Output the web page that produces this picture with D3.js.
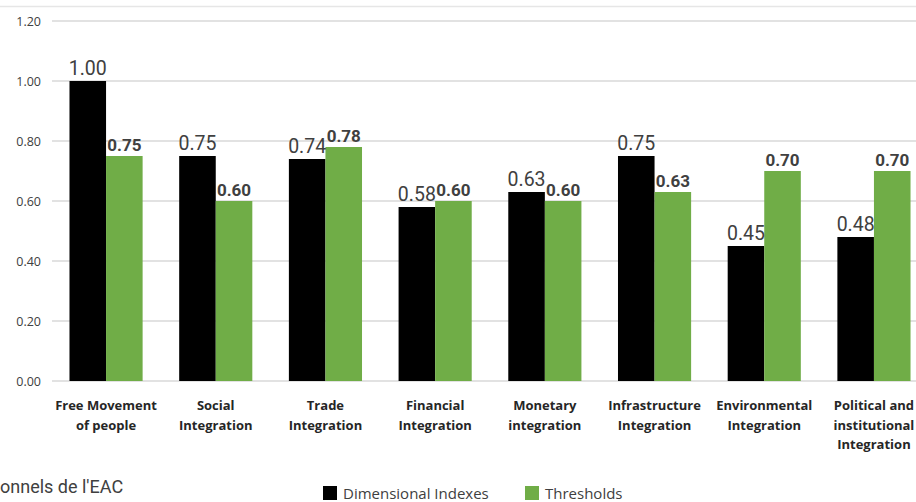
<!DOCTYPE html>
<html>
<head>
<meta charset="utf-8">
<script src="https://cdn.jsdelivr.net/npm/d3@7"></script>
<style>
  body { margin: 0; background: #fff; }
  svg { display: block; }
</style>
</head>
<body>
<svg width="916" height="502"></svg>
<script>
// Data
var categories = [
    ["Free Movement", "of people"],
    ["Social", "Integration"],
    ["Trade", "Integration"],
    ["Financial", "Integration"],
    ["Monetary", "integration"],
    ["Infrastructure", "Integration"],
    ["Environmental", "Integration"],
    ["Political and", "institutional", "Integration"]
];
var dimensional = [1.00, 0.75, 0.74, 0.58, 0.63, 0.75, 0.45, 0.48];
var thresholds = [0.75, 0.60, 0.78, 0.60, 0.60, 0.63, 0.70, 0.70];
var seriesNames = ["Dimensional Indexes", "Thresholds"];
var yTicks = [0, 0.2, 0.4, 0.6, 0.8, 1.0, 1.2];

var colors = { "Dimensional Indexes": "#000000", "Thresholds": "#70ad47" };

var svg = d3.select("svg"),
    width = +svg.attr("width"),
    height = +svg.attr("height");

// scales
var x0 = d3.scaleBand()
    .domain(d3.range(categories.length))
    .range([51.2, 928.8]);

var x1 = d3.scaleBand()
    .domain(seriesNames)
    .range([x0.bandwidth() / 6, x0.bandwidth() * 5 / 6]);

var y = d3.scaleLinear()
    .domain([0, 1.2])
    .range([381, 21]);

// top frame line
svg.append("line")
    .attr("x1", 0).attr("x2", width)
    .attr("y1", 6.5).attr("y2", 6.5)
    .attr("stroke", "#e6e6e6")
    .attr("stroke-width", 1.5);

// gridlines
svg.append("g")
    .selectAll("line")
    .data(yTicks)
    .enter()
    .append("line")
    .attr("x1", 52).attr("x2", width)
    .attr("y1", function (d) { return y(d); })
    .attr("y2", function (d) { return y(d); })
    .attr("stroke", "#d9d9d9")
    .attr("stroke-width", 1.5);

// y axis labels
var yAxis = d3.axisLeft(y)
    .tickValues(yTicks)
    .tickFormat(d3.format(".2f"))
    .tickSize(0)
    .tickPadding(0);

var yg = svg.append("g")
    .attr("transform", "translate(41,0)")
    .call(yAxis);
yg.select(".domain").remove();
yg.selectAll("text")
    .attr("font-family", "Open Sans")
    .attr("font-size", "12.5px")
    .attr("fill", "#404040");

// rows of data per category
var rows = categories.map(function (c, i) {
    return [
        { i: i, key: "Dimensional Indexes", value: dimensional[i] },
        { i: i, key: "Thresholds", value: thresholds[i] }
    ];
});

var groups = svg.append("g")
    .selectAll("g")
    .data(rows)
    .enter()
    .append("g")
    .attr("transform", function (d, i) { return "translate(" + x0(i) + ",0)"; });

groups.selectAll("rect")
    .data(function (d) { return d; })
    .enter()
    .append("rect")
    .attr("x", function (d) { return x1(d.key); })
    .attr("width", x1.bandwidth())
    .attr("y", function (d) { return y(d.value); })
    .attr("height", function (d) { return y(0) - y(d.value); })
    .attr("fill", function (d) { return colors[d.key]; });

// value labels
groups.selectAll("text")
    .data(function (d) { return d; })
    .enter()
    .append("text")
    .attr("x", function (d) { return x1(d.key) + x1.bandwidth() / 2; })
    .attr("y", function (d) {
        return y(d.value) - (d.key === "Thresholds" ? 5 : 6);
    })
    .attr("text-anchor", "middle")
    .attr("font-family", "Roboto")
    .attr("font-size", function (d) { return d.key === "Thresholds" ? "17px" : "19.5px"; })
    .attr("font-weight", function (d) { return d.key === "Thresholds" ? "bold" : "normal"; })
    .attr("fill", "#404040")
    .text(function (d) { return d3.format(".2f")(d.value); });

// category labels
var catLabels = svg.append("g")
    .selectAll("text")
    .data(categories)
    .enter()
    .append("text")
    .attr("x", function (d, i) { return x0(i) + x0.bandwidth() / 2; })
    .attr("y", 410)
    .attr("text-anchor", "middle")
    .attr("font-family", "Open Sans")
    .attr("font-weight", "bold")
    .attr("font-size", "13px")
    .attr("fill", "#262626");

catLabels.selectAll("tspan")
    .data(function (d) { return d; })
    .enter()
    .append("tspan")
    .attr("x", function () { return d3.select(this.parentNode).attr("x"); })
    .attr("dy", function (d, j) { return j === 0 ? 0 : 19.5; })
    .text(function (d) { return d; });

// source text, cut at the left edge
svg.append("text")
    .attr("x", 0)
    .attr("y", 493)
    .attr("font-family", "Roboto")
    .attr("font-size", "18px")
    .attr("fill", "#404040")
    .text("onnels de l'EAC");

// legend
var legendX = [323, 525];
var legend = svg.append("g")
    .selectAll("g")
    .data(seriesNames)
    .enter()
    .append("g")
    .attr("transform", function (d, i) { return "translate(" + legendX[i] + ",486)"; });

legend.append("rect")
    .attr("width", 14)
    .attr("height", 14)
    .attr("fill", function (d) { return colors[d]; });

legend.append("text")
    .attr("x", 20)
    .attr("y", 13)
    .attr("font-family", "Open Sans")
    .attr("font-size", "15px")
    .attr("fill", "#404040")
    .text(function (d) { return d; });
</script>
</body>
</html>
